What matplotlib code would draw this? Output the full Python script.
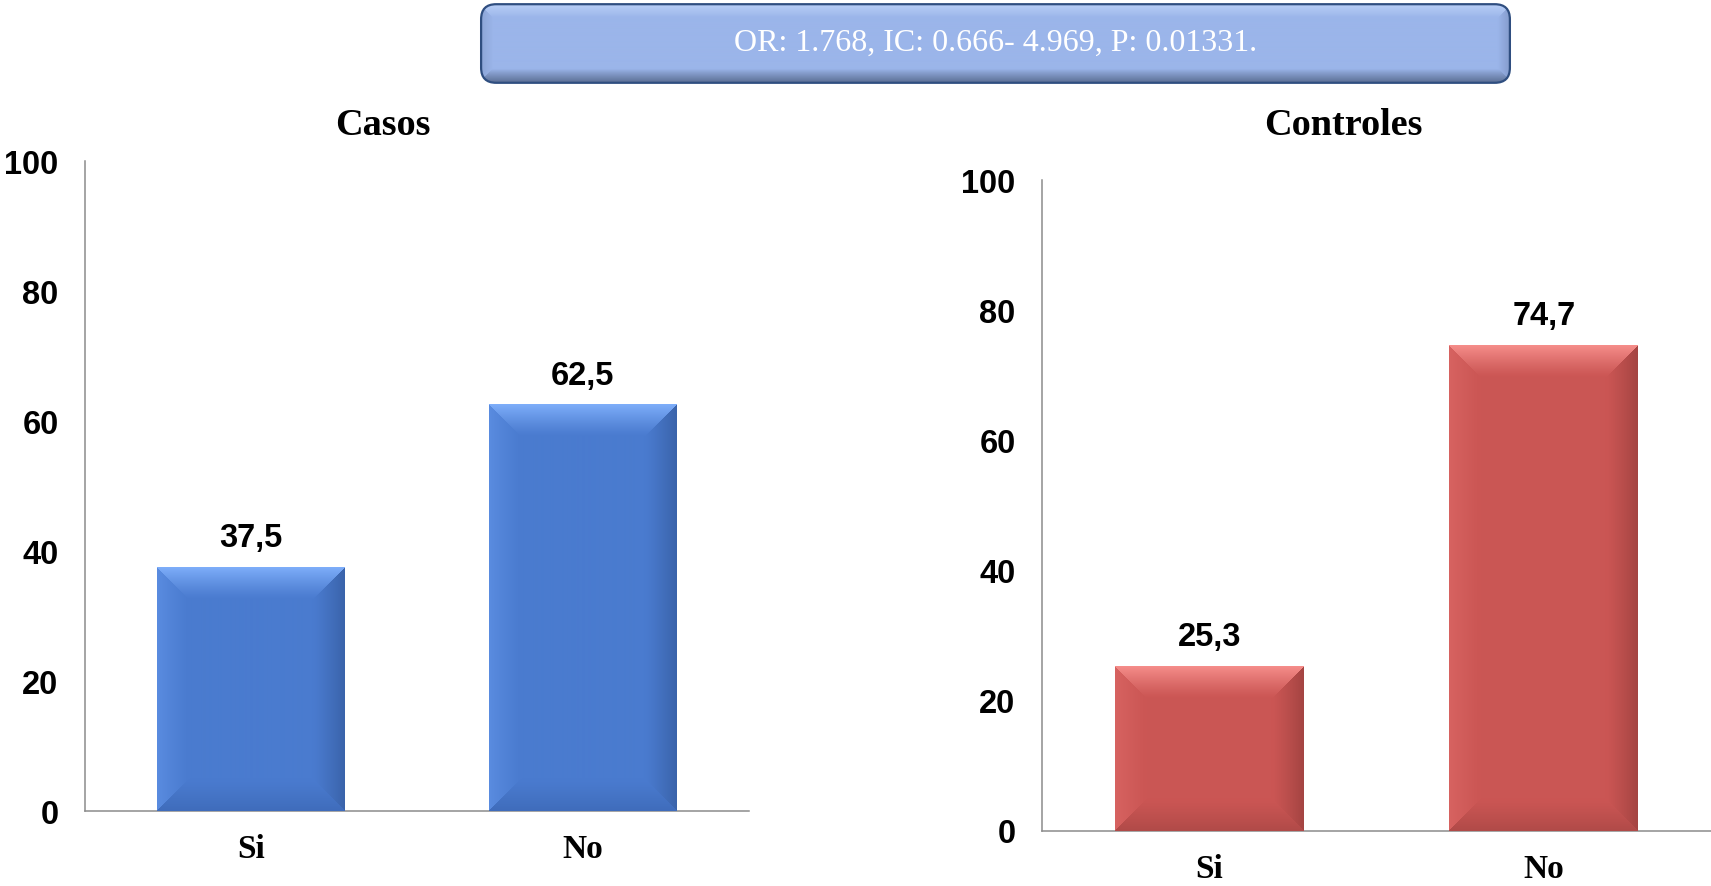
import numpy as np
import matplotlib
matplotlib.use("Agg")
import matplotlib.pyplot as plt
from matplotlib.patches import FancyBboxPatch
from matplotlib.colors import to_rgb

# ---------------- data ----------------
categories = ["Si", "No"]
casos_values = [37.5, 62.5]
controles_values = [25.3, 74.7]
casos_labels = ["37,5", "62,5"]
controles_labels = ["25,3", "74,7"]
yticks = [0, 20, 40, 60, 80, 100]
title_casos = "Casos"
title_controles = "Controles"
box_text = "OR: 1.768, IC: 0.666- 4.969, P: 0.01331."

W, H, DPI = 1711, 887, 100
fig = plt.figure(figsize=(W / DPI, H / DPI), dpi=DPI)
fig.patch.set_facecolor("white")

SANS = "Liberation Sans"
SERIF = "Liberation Serif"


def bevel_image(w_px, h_px, base, edge_colors, bevel, power=1.0):
    """edge_colors: colours at top, bottom, left, right edges, fading to base."""
    base = np.array(to_rgb(base))
    targets = np.array([to_rgb(c) for c in edge_colors])
    w_px = max(int(round(w_px)), 2)
    h_px = max(int(round(h_px)), 2)
    X, Y = np.meshgrid(np.arange(w_px) + 0.5, np.arange(h_px) + 0.5)
    d = np.stack([Y, h_px - Y, X, w_px - X])  # top, bottom, left, right
    idx = np.argmin(d, axis=0)
    dmin = np.min(d, axis=0)
    t = np.clip(1 - dmin / bevel, 0, 1) ** power
    tgt = targets[idx]
    img = base[None, None, :] * (1 - t[..., None]) + tgt * t[..., None]
    return np.clip(img, 0, 1)


def draw_panel(rect, values, labels, color, edge_colors, title, title_xy):
    ax = fig.add_axes(rect)
    x = np.arange(len(categories))
    width = 0.565
    bars = ax.bar(x, values, width=width, color=color, zorder=2)
    ax.set_xlim(-0.5, 1.5)
    ax.set_ylim(0, 100)
    ax_w_px = rect[2] * W
    ax_h_px = rect[3] * H
    px_x = ax_w_px / 2.0
    px_y = ax_h_px / 100.0
    for b, v in zip(bars, values):
        wpx = b.get_width() * px_x
        hpx = v * px_y
        img = bevel_image(wpx, hpx, color, edge_colors, 32, power=1.2)
        im = ax.imshow(img, extent=(b.get_x(), b.get_x() + b.get_width(), 0, v),
                       aspect="auto", origin="upper", zorder=3, interpolation="bilinear")
        im.set_clip_path(b)
    ax.set_xlim(-0.5, 1.5)
    ax.set_ylim(0, 100)
    ax.set_aspect("auto")
    for b, lab, v in zip(bars, labels, values):
        ax.annotate(lab, (b.get_x() + b.get_width() / 2, v), xytext=(0, 21),
                    textcoords="offset points", ha="center", va="center",
                    fontsize=23.5, fontweight="bold", family=SANS, zorder=5)
    ax.set_xticks(x)
    ax.set_xticklabels(categories, fontsize=24, fontweight="bold", family=SERIF)
    ax.set_yticks(yticks)
    ax.set_yticklabels([str(t) for t in yticks], fontsize=23.5, fontweight="bold", family=SANS)
    ax.tick_params(axis="both", length=0)
    ax.tick_params(axis="y", pad=19)
    ax.tick_params(axis="x", pad=16)
    for s in ["top", "right"]:
        ax.spines[s].set_visible(False)
    for s in ["left", "bottom"]:
        ax.spines[s].set_color("#8c8c8c")
        ax.spines[s].set_linewidth(1.1)
    ax.set_facecolor("none")
    fig.text(title_xy[0], title_xy[1], title, ha="center", va="center",
             fontsize=27.5, fontweight="bold", family=SERIF)
    return ax


# left panel (Casos)
draw_panel([85 / W, 1 - 812 / H, (748.6 - 85) / W, (812 - 161.5) / H],
           casos_values, casos_labels, "#4a7bcf",
           ["#7eaefa", "#3f6cbb", "#5a8ce0", "#3a63aa"],
           title_casos, (383 / W, 1 - 125.5 / H))

# right panel (Controles)
draw_panel([1042 / W, 1 - 831.5 / H, (W - 1042) / W, (831.5 - 181) / H],
           controles_values, controles_labels, "#cb5654",
           ["#f68e8b", "#b04a48", "#d76361", "#a44442"],
           title_controles, (1343 / W, 1 - 125.5 / H))

# ---------------- statistics box ----------------
bx0, bx1, by0, by1 = 478, 1513, 4, 85
bax = fig.add_axes([bx0 / W, 1 - by1 / H, (bx1 - bx0) / W, (by1 - by0) / H])
bax.set_xlim(0, 1)
bax.set_ylim(0, 1)
bax.axis("off")
rad_x = 15 / (bx1 - bx0)
asp = (bx1 - bx0) / (by1 - by0)
patch = FancyBboxPatch((0.003, 0.015), 0.994, 0.97,
                       boxstyle="round,pad=0,rounding_size=%f" % rad_x,
                       mutation_aspect=asp,
                       facecolor="#9bb5ea", edgecolor="none",
                       transform=bax.transAxes, zorder=1)
bax.add_patch(patch)
bimg = bevel_image(bx1 - bx0, by1 - by0, "#9bb5ea",
                   ["#bcd2f8", "#56698d", "#8aa2d2", "#8097c6"], 15, power=0.9)
im = bax.imshow(bimg, extent=(0, 1, 0, 1), aspect="auto", origin="upper", zorder=2,
                interpolation="bilinear")
im.set_clip_path(patch)
edge = FancyBboxPatch((0.003, 0.015), 0.994, 0.97,
                      boxstyle="round,pad=0,rounding_size=%f" % rad_x,
                      mutation_aspect=asp,
                      facecolor="none", edgecolor="#2f4e80", linewidth=1.6,
                      transform=bax.transAxes, zorder=3)
bax.add_patch(edge)
bax.text(0.5, 0.52, box_text, ha="center", va="center", color="white",
         fontsize=23, family=SERIF, zorder=4, transform=bax.transAxes)

fig.savefig("out.png", dpi=DPI, facecolor="white")
